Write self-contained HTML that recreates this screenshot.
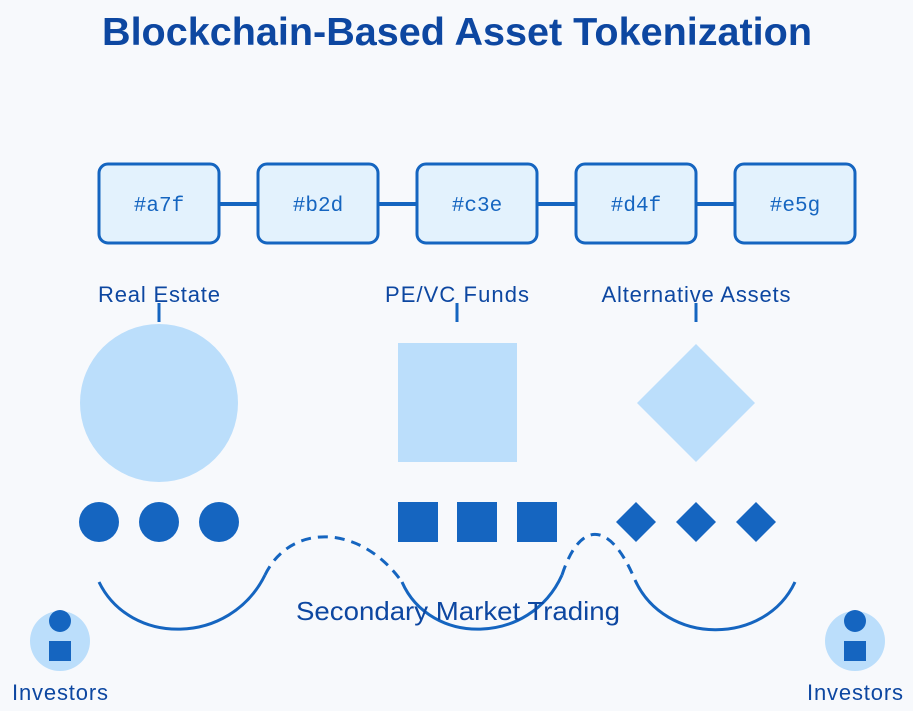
<!DOCTYPE html>
<html><head><meta charset="utf-8"><style>
body{margin:0;background:#f7f9fc;}
svg{display:block}
</style></head><body>
<svg width="913" height="711" viewBox="0 0 913 711" xmlns="http://www.w3.org/2000/svg">
<rect width="913" height="711" fill="#f7f9fc"/>
<text x="457" y="45" text-anchor="middle" font-family="Liberation Sans, sans-serif" font-weight="bold" font-size="39" fill="#0d47a1" textLength="710" lengthAdjust="spacingAndGlyphs">Blockchain-Based Asset Tokenization</text>
<g stroke="#1565c0" stroke-width="4">
<line x1="219" y1="204" x2="258" y2="204"/><line x1="378" y1="204" x2="417" y2="204"/><line x1="537" y1="204" x2="576" y2="204"/><line x1="696" y1="204" x2="735" y2="204"/>
</g>
<g fill="#e3f2fd" stroke="#1565c0" stroke-width="3">
<rect x="99" y="164" width="120" height="79" rx="9"/><rect x="258" y="164" width="120" height="79" rx="9"/><rect x="417" y="164" width="120" height="79" rx="9"/><rect x="576" y="164" width="120" height="79" rx="9"/><rect x="735" y="164" width="120" height="79" rx="9"/>
</g>
<g font-family="Liberation Mono, monospace" font-size="21" fill="#1565c0" text-anchor="middle">
<text x="159" y="211">#a7f</text><text x="318" y="211">#b2d</text><text x="477" y="211">#c3e</text><text x="636" y="211">#d4f</text><text x="795" y="211">#e5g</text>
</g>
<g stroke="#1565c0" stroke-width="3"><line x1="159" y1="303" x2="159" y2="322"/><line x1="457" y1="303" x2="457" y2="322"/><line x1="696" y1="303" x2="696" y2="322"/></g>
<g font-family="Liberation Sans, sans-serif" font-size="22" fill="#0d47a1" text-anchor="middle" lengthAdjust="spacingAndGlyphs">
<text x="159" y="302" textLength="122">Real Estate</text><text x="457" y="302" textLength="144">PE/VC Funds</text><text x="696" y="302" textLength="189">Alternative Assets</text>
</g>
<g fill="#bbdefb">
<circle cx="159" cy="403" r="79"/><rect x="398" y="343" width="119" height="119"/><polygon points="696,344 755,403 696,462 637,403"/>
</g>
<g fill="#1565c0">
<circle cx="99" cy="522" r="20"/><circle cx="159" cy="522" r="20"/><circle cx="219" cy="522" r="20"/>
<rect x="398" y="502" width="40" height="40"/><rect x="457" y="502" width="40" height="40"/><rect x="517" y="502" width="40" height="40"/>
<polygon points="636,502 656,522 636,542 616,522"/><polygon points="696,502 716,522 696,542 676,522"/><polygon points="756,502 776,522 756,542 736,522"/>
</g>
<g fill="none" stroke="#1565c0" stroke-width="3">
<path d="M99,582 C130,646 230,646 265,575"/>
<path d="M265,575 C290,523 360,523 402,582" stroke-dasharray="10,7"/>
<path d="M402,582 C430,646 530,646 562,575"/>
<path d="M562,575 C580,520 610,520 635,580" stroke-dasharray="10,7"/>
<path d="M635,580 C665,646 765,646 795,582"/>
</g>
<text x="458" y="620" text-anchor="middle" font-family="Liberation Sans, sans-serif" font-size="26" fill="#0d47a1" textLength="324" lengthAdjust="spacingAndGlyphs">Secondary Market Trading</text>
<g>
<circle cx="60" cy="641" r="30" fill="#bbdefb"/><circle cx="60" cy="621" r="11" fill="#1565c0"/><rect x="49" y="641" width="22" height="20" fill="#1565c0"/>
<circle cx="855" cy="641" r="30" fill="#bbdefb"/><circle cx="855" cy="621" r="11" fill="#1565c0"/><rect x="844" y="641" width="22" height="20" fill="#1565c0"/>
</g>
<g font-family="Liberation Sans, sans-serif" font-size="22" fill="#0d47a1" text-anchor="middle" lengthAdjust="spacingAndGlyphs">
<text x="60" y="700" textLength="96">Investors</text><text x="855" y="700" textLength="96">Investors</text>
</g>
</svg>
</body></html>
